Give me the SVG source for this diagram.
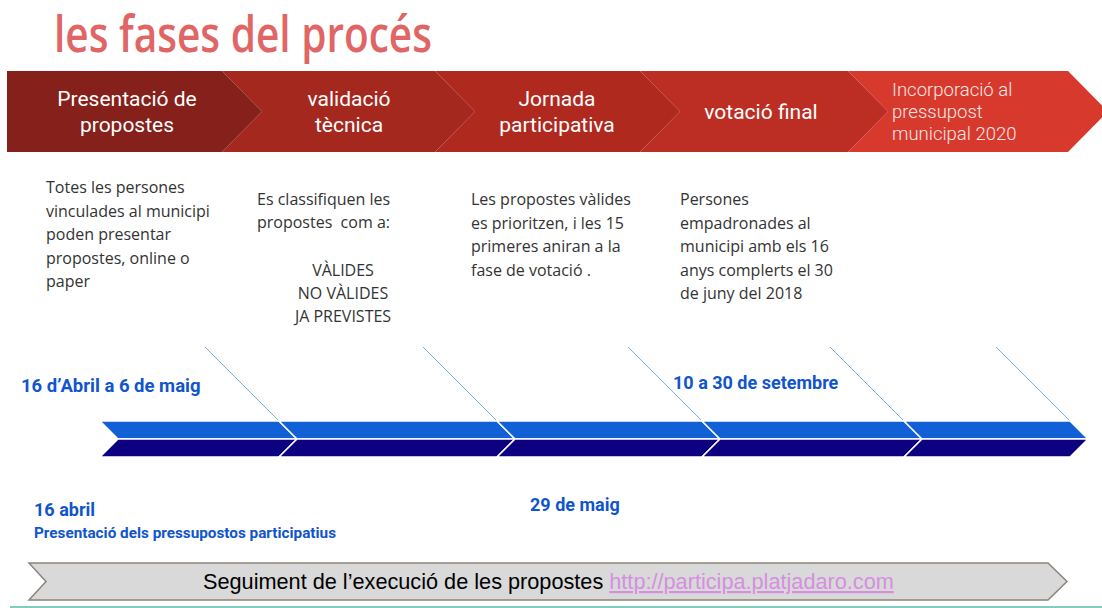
<svg xmlns="http://www.w3.org/2000/svg" width="1102" height="608" viewBox="0 0 1102 608">
<style>
.ht{font-family:Roboto,"Liberation Sans",sans-serif;font-size:21px;fill:#ffffff;text-anchor:middle}
.hl{font-family:Roboto,"Liberation Sans",sans-serif;font-size:18.5px;font-weight:300;fill:#fbe9e7}
.bd{font-family:"Open Sans","Noto Sans",sans-serif;font-size:16px;fill:#333333}
.dt{font-family:Roboto,"Liberation Sans",sans-serif;font-weight:bold;fill:#1155cc}
.up{fill:#1160d6;stroke:#ffffff;stroke-width:1.5}
.lo{fill:#0c0081;stroke:#ffffff;stroke-width:1.5}
.cn{stroke:#7aaee6;stroke-width:1;fill:none}
</style>
<rect x="0" y="0" width="1102" height="608" fill="#ffffff"/>
<g id="title">
<text x="54" y="52" font-family="'Open Sans','Noto Sans',sans-serif" font-weight="600" font-size="50" fill="#e06666" textLength="378" lengthAdjust="spacingAndGlyphs">les fases del procés</text>
</g>
<g id="phase5">
<polygon points="848,71 1068,71 1108,111.5 1068,152 848,152 888,111.5" fill="#d8392d"/>
<text class="hl" x="892"><tspan x="892" y="96">Incorporació al</tspan><tspan x="892" y="118">pressupost</tspan><tspan x="892" y="140">municipal 2020</tspan></text>
</g>
<g id="phase4">
<polygon points="640,71 848,71 888,111.5 848,152 640,152 680,111.5" fill="#bc2e24"/>
<text class="ht" x="761" y="119">votació final</text>
</g>
<g id="phase3">
<polygon points="435,71 640,71 680,111.5 640,152 435,152 475,111.5" fill="#b0291f"/>
<text class="ht"><tspan x="557" y="106">Jornada</tspan><tspan x="557" y="132">participativa</tspan></text>
</g>
<g id="phase2">
<polygon points="222,71 435,71 475,111.5 435,152 222,152 262,111.5" fill="#a5281f"/>
<text class="ht"><tspan x="349" y="106">validació</tspan><tspan x="349" y="132">tècnica</tspan></text>
</g>
<g id="phase1">
<polygon points="7,71 222,71 262,111.5 222,152 7,152" fill="#85201a"/>
<text class="ht"><tspan x="127" y="106">Presentació de</tspan><tspan x="127" y="132">propostes</tspan></text>
</g>
<g id="desc1">
<text class="bd"><tspan x="46" y="193">Totes les persones</tspan><tspan x="46" y="217">vinculades al municipi</tspan><tspan x="46" y="240">poden presentar</tspan><tspan x="46" y="264">propostes, online o</tspan><tspan x="46" y="287">paper</tspan></text>
</g>
<g id="desc2">
<text class="bd" xml:space="preserve"><tspan x="257" y="205">Es classifiquen les</tspan><tspan x="257" y="228">propostes  com a:</tspan></text>
<text class="bd" text-anchor="middle"><tspan x="343" y="276">VÀLIDES</tspan><tspan x="343" y="299">NO VÀLIDES</tspan><tspan x="343" y="322">JA PREVISTES</tspan></text>
</g>
<g id="desc3">
<text class="bd"><tspan x="471" y="205">Les propostes vàlides</tspan><tspan x="471" y="229">es prioritzen, i les 15</tspan><tspan x="471" y="252">primeres aniran a la</tspan><tspan x="471" y="276">fase de votació .</tspan></text>
</g>
<g id="desc4">
<text class="bd"><tspan x="680" y="205">Persones</tspan><tspan x="680" y="229">empadronades al</tspan><tspan x="680" y="252">municipi amb els 16</tspan><tspan x="680" y="276">anys complerts el 30</tspan><tspan x="680" y="299">de juny del 2018</tspan></text>
</g>
<g id="connectors">
<line class="cn" x1="205" y1="347" x2="279" y2="421"/>
<line class="cn" x1="423" y1="347" x2="497" y2="421"/>
<line class="cn" x1="628" y1="347" x2="702" y2="421"/>
<line class="cn" x1="830" y1="347" x2="904" y2="421"/>
<line class="cn" x1="996" y1="347" x2="1070" y2="421"/>
</g>
<g id="timeline">
<g id="seg1">
<polygon class="up" points="100,421 279,421 297,439 118,439"/>
<polygon class="lo" points="118,439 297,439 279,457 100,457"/>
</g>
<g id="seg2">
<polygon class="up" points="279,421 497,421 515,439 297,439"/>
<polygon class="lo" points="297,439 515,439 497,457 279,457"/>
</g>
<g id="seg3">
<polygon class="up" points="497,421 702,421 720,439 515,439"/>
<polygon class="lo" points="515,439 720,439 702,457 497,457"/>
</g>
<g id="seg4">
<polygon class="up" points="702,421 904,421 922,439 720,439"/>
<polygon class="lo" points="720,439 922,439 904,457 702,457"/>
</g>
<g id="seg5">
<polygon class="up" points="904,421 1070,421 1088,439 922,439"/>
<polygon class="lo" points="922,439 1088,439 1070,457 904,457"/>
</g>
</g>
<g id="dates">
<text class="dt" x="21" y="392" font-size="18.5">16 d’Abril a 6 de maig</text>
<text class="dt" x="673" y="389" font-size="18">10 a 30 de setembre</text>
<text class="dt" x="34" y="516" font-size="18">16 abril</text>
<text class="dt" x="34" y="538" font-size="14" textLength="302" lengthAdjust="spacingAndGlyphs">Presentació dels pressupostos participatius</text>
<text class="dt" x="530" y="511" font-size="18">29 de maig</text>
</g>
<g id="footer">
<polygon points="29,563 1048,563 1067,581.5 1048,600 29,600 46,581.5" fill="#d9d9d9" stroke="#8c8478" stroke-width="1.5"/>
<text x="203" y="589" font-family="'Liberation Sans',Arial,sans-serif" font-size="21.7" fill="#000000">Seguiment de l’execució de les propostes <tspan fill="#d58fe0" text-decoration="underline">http://participa.platjadaro.com</tspan></text>
</g>
<line x1="10" y1="607" x2="1102" y2="607" stroke="#5cb8ac" stroke-width="1.5"/>
</svg>
